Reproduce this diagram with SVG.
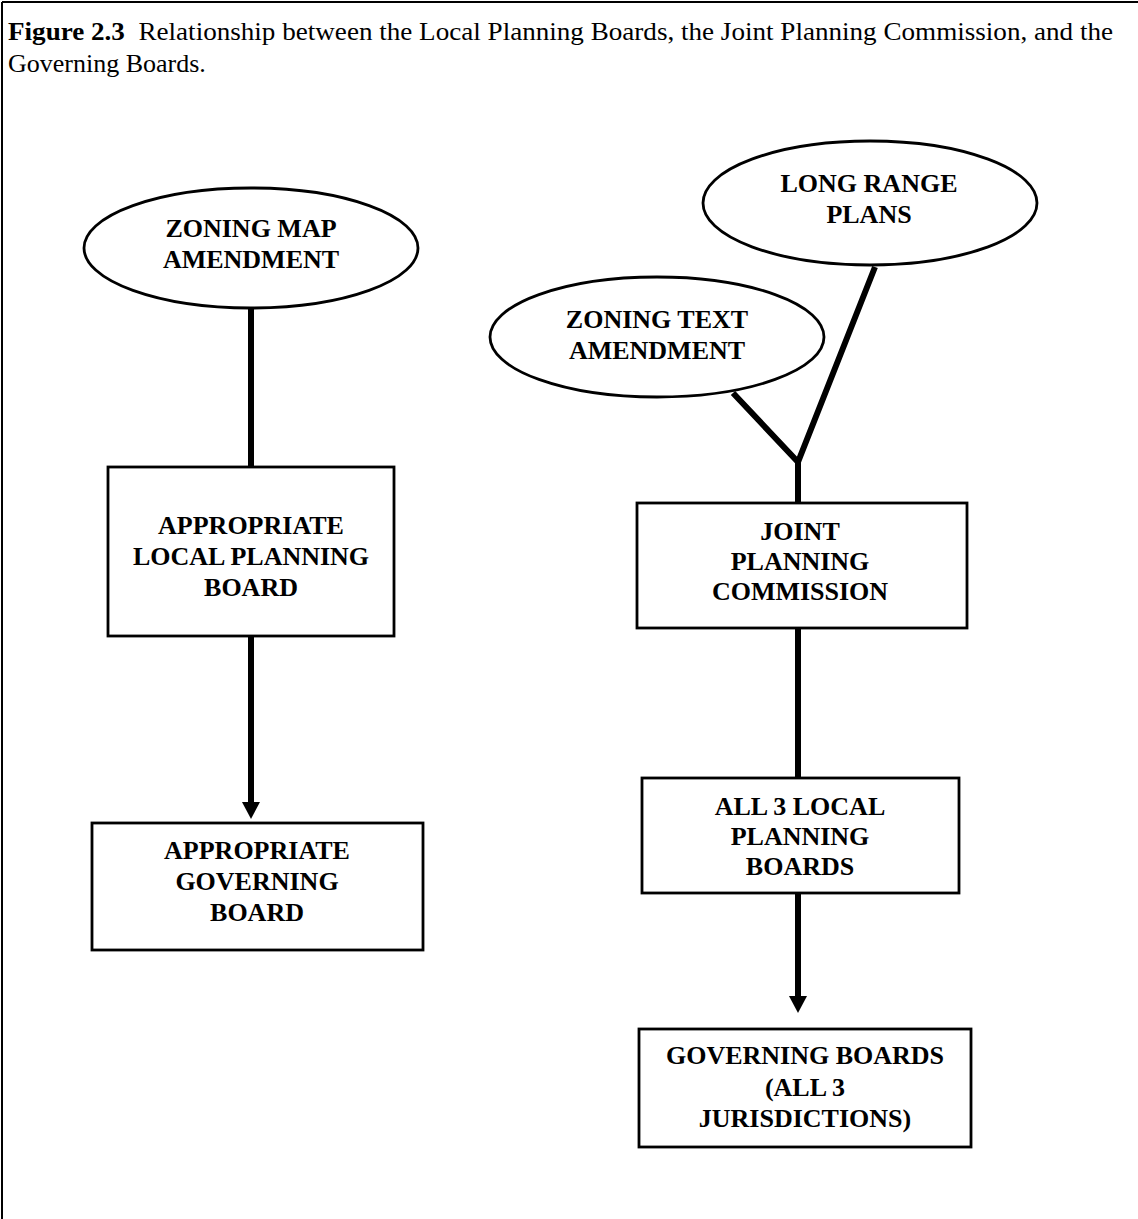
<svg xmlns="http://www.w3.org/2000/svg" width="1138" height="1219" viewBox="0 0 1138 1219">
  <defs>
    <style>
      .frame { stroke: #000; stroke-width: 2; fill: none; }
      .node { fill: #fff; stroke: #000; stroke-width: 2.8; }
      .lbl { font-family: "Liberation Serif", "Times New Roman", serif; font-weight: bold; font-size: 26px; text-anchor: middle; fill: #000; }
      .title { font-family: "Liberation Serif", "Times New Roman", serif; font-size: 26px; fill: #000; }
      .conn { stroke: #000; stroke-width: 6; fill: none; }
    </style>
    <marker id="arrow" markerUnits="userSpaceOnUse" markerWidth="17" markerHeight="18" refX="0" refY="9" viewBox="0 0 17 18" orient="auto">
      <path d="M0,0 L17,9 L0,18 Z" fill="#000"/>
    </marker>
  </defs>
  <rect width="1138" height="1219" fill="#fff"/>

  <g id="frame">
    <line class="frame" x1="2" y1="2" x2="1138" y2="2"/>
    <line class="frame" x1="2" y1="2" x2="2" y2="1219"/>
  </g>

  <g id="title">
    <text class="title" x="8" y="40" textLength="1105" lengthAdjust="spacingAndGlyphs" xml:space="preserve"><tspan font-weight="bold">Figure 2.3</tspan>  Relationship between the Local Planning Boards, the Joint Planning Commission, and the</text>
    <text class="title" x="8" y="72">Governing Boards.</text>
  </g>

  <g id="connectors">
    <line class="conn" x1="251" y1="308" x2="251" y2="467"/>
    <line class="conn" x1="251" y1="636" x2="251" y2="802" marker-end="url(#arrow)"/>
    <polyline class="conn" points="733,393 798,462 875,267" stroke-linejoin="miter"/>
    <line class="conn" x1="798" y1="460" x2="798" y2="503"/>
    <line class="conn" x1="798" y1="628" x2="798" y2="778"/>
    <line class="conn" x1="798" y1="893" x2="798" y2="996" marker-end="url(#arrow)"/>
  </g>

  <g id="zoning-map-amendment">
    <ellipse class="node" cx="251" cy="248" rx="167" ry="60"/>
    <text class="lbl" x="251" y="237">ZONING MAP</text>
    <text class="lbl" x="251" y="268">AMENDMENT</text>
  </g>

  <g id="appropriate-local-planning-board">
    <rect class="node" x="108" y="467" width="286" height="169"/>
    <text class="lbl" x="251" y="534">APPROPRIATE</text>
    <text class="lbl" x="251" y="565">LOCAL PLANNING</text>
    <text class="lbl" x="251" y="596">BOARD</text>
  </g>

  <g id="appropriate-governing-board">
    <rect class="node" x="92" y="823" width="331" height="127"/>
    <text class="lbl" x="257" y="859">APPROPRIATE</text>
    <text class="lbl" x="257" y="890">GOVERNING</text>
    <text class="lbl" x="257" y="921">BOARD</text>
  </g>

  <g id="long-range-plans">
    <ellipse class="node" cx="870" cy="203" rx="167" ry="62"/>
    <text class="lbl" x="869" y="192">LONG RANGE</text>
    <text class="lbl" x="869" y="223">PLANS</text>
  </g>

  <g id="zoning-text-amendment">
    <ellipse class="node" cx="657" cy="337" rx="167" ry="60"/>
    <text class="lbl" x="657" y="328">ZONING TEXT</text>
    <text class="lbl" x="657" y="359">AMENDMENT</text>
  </g>

  <g id="joint-planning-commission">
    <rect class="node" x="637" y="503" width="330" height="125"/>
    <text class="lbl" x="800" y="540">JOINT</text>
    <text class="lbl" x="800" y="570">PLANNING</text>
    <text class="lbl" x="800" y="600">COMMISSION</text>
  </g>

  <g id="all-3-local-planning-boards">
    <rect class="node" x="642" y="778" width="317" height="115"/>
    <text class="lbl" x="800" y="815">ALL 3 LOCAL</text>
    <text class="lbl" x="800" y="845">PLANNING</text>
    <text class="lbl" x="800" y="875">BOARDS</text>
  </g>

  <g id="governing-boards">
    <rect class="node" x="639" y="1029" width="332" height="118"/>
    <text class="lbl" x="805" y="1064">GOVERNING BOARDS</text>
    <text class="lbl" x="805" y="1096">(ALL 3</text>
    <text class="lbl" x="805" y="1127">JURISDICTIONS)</text>
  </g>
</svg>
